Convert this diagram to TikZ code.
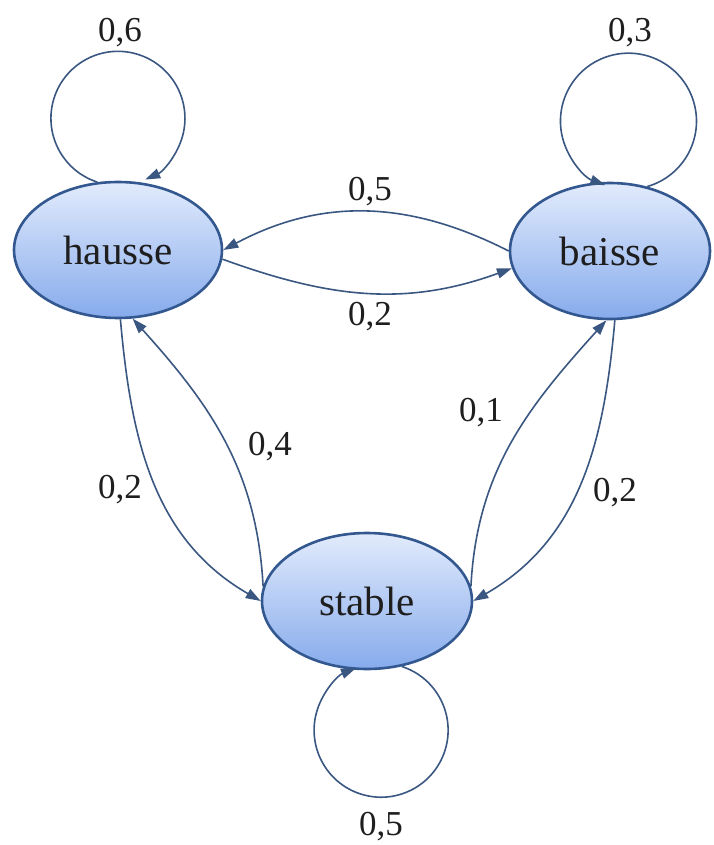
\documentclass[tikz,border=0pt]{standalone}
\usepackage{fontspec}
\setmainfont{Liberation Serif}
\usetikzlibrary{shapes.geometric,arrows.meta}
\definecolor{edgecol}{HTML}{3A5782}
\definecolor{bordercol}{HTML}{33578F}
\definecolor{topfill}{HTML}{E2EBFC}
\definecolor{botfill}{HTML}{86ABEC}
\definecolor{txt}{HTML}{1E1E1E}
\tikzset{
  state/.style={ellipse, draw=bordercol, line width=2.6pt, top color=topfill, bottom color=botfill,
    inner sep=0pt, minimum height=136pt, font=\fontsize{41}{41}\selectfont, text=txt},
  edge/.style={draw=edgecol, line width=1.6pt, -{Triangle[length=15pt,width=10pt]}},
  lbl/.style={font=\fontsize{35}{35}\selectfont, text=txt, inner sep=0pt}
}
\begin{document}
\begin{tikzpicture}[x=1pt,y=1pt]
\useasboundingbox (0,0) rectangle (713,-845);
\node[state, minimum width=208pt] (hausse) at (118,-250) {hausse};
\node[state, minimum width=200pt] (baisse) at (610,-251) {baisse};
\node[state, minimum width=210pt] (stable) at (367,-601) {stable};

% horizontal edges
\draw[edge] (baisse.180) to[out=153, in=28] (hausse.0);
\draw[edge] (hausse.-5) to[out=-20, in=-160] (baisse.190);

% left pair
\draw[edge] (hausse.-88) to[out=-85, in=150] (stable.180);
\draw[edge] (stable.172) to[out=93, in=-48] (hausse.-78);

% right pair
\draw[edge] (stable.8) to[out=87, in=-132] (baisse.-93);
\draw[edge] (baisse.-86) to[out=-95, in=30] (stable.0);

% loops
\draw[edge] (hausse.107) arc[start angle=252, end angle=-66, radius=67];
\draw[edge] (baisse.60) arc[start angle=-74, end angle=250, radius=68];
\draw[edge] (stable.-62) arc[start angle=72, end angle=-248, radius=67];

% labels
\node[lbl] (l1) at (120,-33) {0,6};
\node[lbl] (l2) at (630,-33) {0,3};
\node[lbl] (l3) at (370,-192) {0,5};
\node[lbl] (l4) at (370,-317) {0,2};
\node[lbl] (l5) at (120,-490) {0,2};
\node[lbl] (l6) at (270,-447) {0,4};
\node[lbl] (l7) at (481,-413) {0,1};
\node[lbl] (l8) at (615,-493) {0,2};
\node[lbl] (l9) at (381,-827) {0,5};
\end{tikzpicture}
\end{document}
